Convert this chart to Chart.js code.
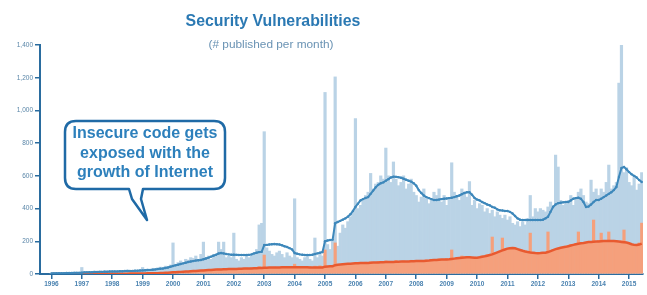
<!DOCTYPE html>
<html>
<head>
<meta charset="utf-8">
<script src="https://cdn.jsdelivr.net/npm/chart.js@4.4.1/dist/chart.umd.min.js"></script>
<style>
  html, body { margin: 0; padding: 0; background: #fff; }
  #wrap { width: 647px; height: 295px; }
</style>
</head>
<body>
<div id="wrap"><canvas id="vulnChart" width="647" height="295"></canvas></div>
<script>
// months from Sep 1995 to Jun 2015
const firstYear = 1995, firstMonth = 9, lastYear = 2015, lastMonth = 6;
const months = [];
for (let y = firstYear; y <= lastYear; y++) {
  for (let m = 1; m <= 12; m++) {
    if (y === firstYear && m < firstMonth) continue;
    if (y === lastYear && m > lastMonth) break;
    months.push(y + "-" + String(m).padStart(2, "0"));
  }
}

const yTicks = [0, 200, 400, 600, 800, 1000, 1200, 1400];

// all vulnerabilities published per month (light blue bars)
const totalPerMonth = [
  null, null, null, null, // 1995
  5, 4, 6, 5, 7, 6, 8, 5, 6, 7, 6, 8, // 1996
  40, 12, 10, 15, 10, 18, 14, 12, 16, 20, 15, 18, // 1997
  18, 20, 15, 22, 18, 20, 25, 16, 20, 22, 18, 24, // 1998
  40, 25, 30, 28, 35, 30, 38, 42, 35, 48, 45, 55, // 1999
  190, 60, 70, 80, 65, 90, 85, 100, 95, 110, 90, 120, // 2000
  195, 100, 110, 90, 120, 110, 195, 150, 195, 100, 110, 100, // 2001
  250, 90, 80, 100, 90, 110, 100, 120, 130, 150, 300, 310, // 2002
  870, 160, 140, 120, 110, 130, 140, 120, 100, 130, 110, 100, // 2003
  460, 100, 90, 80, 100, 110, 90, 80, 220, 100, 120, 110, // 2004
  1110, 180, 150, 200, 1205, 170, 250, 300, 280, 320, 350, 380, // 2005
  950, 400, 420, 450, 480, 500, 615, 520, 550, 560, 600, 580, // 2006
  770, 600, 560, 685, 580, 540, 560, 600, 520, 550, 580, 500, // 2007
  480, 440, 470, 520, 460, 430, 460, 500, 480, 520, 440, 480, // 2008
  420, 460, 680, 500, 480, 450, 520, 500, 470, 565, 420, 450, // 2009
  400, 430, 420, 380, 400, 370, 390, 350, 380, 360, 340, 360, // 2010
  330, 350, 310, 300, 320, 290, 320, 300, 340, 480, 350, 400, // 2011
  380, 400, 390, 380, 410, 440, 420, 727, 654, 450, 420, 440, // 2012
  450, 480, 420, 460, 500, 520, 480, 440, 430, 574, 500, 520, // 2013
  480, 520, 500, 560, 666, 520, 540, 560, 1167, 1400, 620, 650, // 2014
  560, 540, 600, 513, 550, 620 // 2015
];

// web vulnerabilities per month (orange bars)
const webPerMonth = [
  null, null, null, null,
  0, 0, 1, 0, 0, 1, 0, 0, 1, 0, 1, 0,
  1, 2, 1, 1, 2, 1, 2, 1, 1, 2, 1, 2,
  2, 2, 3, 2, 2, 3, 2, 3, 2, 3, 3, 2,
  3, 4, 3, 5, 4, 6, 5, 7, 6, 8, 9, 10,
  12, 10, 13, 12, 15, 14, 16, 18, 17, 20, 19, 22,
  25, 20, 24, 26, 22, 28, 32, 30, 26, 28, 32, 30,
  35, 28, 30, 34, 30, 36, 32, 38, 35, 40, 45, 42,
  116, 40, 36, 38, 42, 36, 40, 44, 38, 42, 40, 38,
  60, 40, 42, 38, 44, 42, 46, 40, 48, 44, 50, 46,
  147, 42, 44, 48, 190, 50, 52, 56, 60, 58, 64, 66,
  70, 68, 62, 70, 72, 66, 74, 70, 68, 76, 72, 70,
  80, 78, 70, 74, 82, 72, 76, 80, 74, 78, 84, 76,
  82, 76, 84, 80, 86, 78, 90, 84, 88, 92, 86, 90,
  95, 90, 147, 96, 100, 98, 110, 104, 108, 106, 100, 104,
  100, 104, 110, 108, 118, 120, 226, 132, 128, 140, 220, 150,
  158, 160, 150, 156, 148, 146, 140, 142, 135, 250, 130, 128,
  125, 130, 126, 132, 257, 138, 150, 146, 158, 162, 160, 170,
  172, 180, 176, 186, 257, 190, 188, 194, 196, 194, 330, 200,
  205, 250, 200, 204, 257, 206, 196, 202, 198, 204, 269, 190,
  186, 180, 176, 182, 190, 311
];

// 12-month average, all vulnerabilities (blue line)
const totalAverage = [
  null, null, null, null,
  4, 4, 5, 5, 5, 5, 6, 6, 6, 7, 7, 7,
  8, 10, 10, 11, 11, 12, 12, 13, 13, 14, 14, 15,
  15, 16, 16, 17, 17, 18, 18, 19, 19, 20, 20, 21,
  22, 23, 24, 25, 26, 28, 30, 32, 34, 37, 40, 44,
  49, 53, 57, 61, 65, 69, 73, 76, 79, 82, 84, 86,
  90, 95, 100, 106, 112, 118, 125, 128, 126, 122, 120, 118,
  118, 117, 116, 116, 116, 116, 117, 120, 126, 130, 134, 136,
  177, 178, 180, 182, 183, 182, 180, 176, 170, 165, 158, 150,
  128, 124, 120, 118, 116, 116, 116, 118, 122, 126, 130, 134,
  200, 205, 208, 210, 311, 318, 325, 332, 340, 350, 365, 385,
  410, 430, 450, 458, 465, 470, 490, 510, 530, 545, 555, 560,
  570, 580, 590, 595, 594, 592, 588, 582, 576, 570, 565, 555,
  540, 513, 495, 480, 470, 464, 458, 452, 452, 455, 458, 460,
  462, 464, 466, 470, 475, 480, 488, 495, 500, 500, 485, 465,
  455, 450, 440, 433, 425, 420, 410, 405, 395, 390, 388, 385,
  385, 380, 370, 355, 340, 332, 330, 330, 330, 330, 330, 330,
  330, 330, 332, 340, 350, 380, 410, 425, 433, 436, 438, 440,
  440, 450, 460, 464, 466, 460, 440, 410, 412, 425, 440, 452,
  452, 460, 470, 480, 490, 500, 513, 532, 593, 648, 654, 640,
  623, 610, 600, 590, 574, 562
];

// 12-month average, web vulnerabilities (orange line)
const webAverage = [
  null, null, null, null,
  0, 0, 0, 0, 0, 0, 1, 1, 1, 1, 1, 1,
  1, 1, 1, 1, 1, 1, 1, 1, 2, 2, 2, 2,
  2, 2, 2, 2, 2, 2, 2, 3, 3, 3, 3, 3,
  3, 3, 4, 4, 4, 5, 5, 6, 6, 7, 8, 9,
  10, 11, 12, 13, 14, 15, 16, 17, 18, 19, 20, 21,
  22, 23, 24, 25, 26, 27, 28, 28, 29, 29, 30, 30,
  31, 31, 32, 32, 33, 33, 34, 34, 35, 35, 36, 36,
  38, 38, 39, 39, 40, 40, 40, 41, 41, 41, 42, 42,
  42, 42, 42, 41, 41, 41, 40, 40, 40, 40, 40, 40,
  45, 46, 47, 48, 54, 56, 58, 60, 61, 62, 63, 64,
  65, 66, 67, 67, 68, 68, 69, 70, 70, 71, 72, 72,
  73, 73, 74, 74, 75, 75, 76, 76, 77, 77, 78, 78,
  79, 79, 80, 80, 81, 82, 84, 86, 86, 87, 88, 88,
  89, 90, 92, 94, 96, 98, 100, 101, 102, 102, 101, 100,
  100, 102, 105, 108, 112, 116, 120, 126, 132, 138, 144, 150,
  155, 158, 159, 157, 152, 147, 142, 138, 135, 132, 130, 128,
  127, 128, 130, 130, 134, 140, 146, 152, 156, 160, 163, 166,
  170, 174, 178, 182, 185, 188, 190, 193, 195, 196, 197, 198,
  199, 200, 201, 202, 202, 202, 201, 200, 198, 196, 194, 192,
  188, 182, 178, 177, 180, 186
];

const calloutLines = ["Insecure code gets", "exposed with the", "growth of Internet"];

const FONT = "'Liberation Sans', Arial, sans-serif";
const AXIS_BLUE = "#2a6c9f";

// font size that makes text span a given width
function fitSize(ctx, text, weight, width) {
  ctx.font = weight + " 20px " + FONT;
  return (20 * width) / ctx.measureText(text).width;
}

const overlay = {
  id: "overlay",
  afterDraw(chart) {
    const ctx = chart.ctx;
    ctx.save();
    ctx.textAlign = "center";
    ctx.textBaseline = "middle";

    // title + subtitle
    let s = fitSize(ctx, "Security Vulnerabilities", "bold", 175);
    ctx.font = "bold " + s + "px " + FONT;
    ctx.fillStyle = "#2b79b3";
    ctx.fillText("Security Vulnerabilities", 273, 22);
    s = fitSize(ctx, "(# published per month)", "normal", 125);
    ctx.font = s + "px " + FONT;
    ctx.fillStyle = "#6a93b4";
    ctx.fillText("(# published per month)", 271, 45);

    // speech bubble
    const l = 65, r = 225, t = 121, b = 189, rad = 11;
    ctx.beginPath();
    ctx.moveTo(l + rad, t);
    ctx.lineTo(r - rad, t);
    ctx.quadraticCurveTo(r, t, r, t + rad);
    ctx.lineTo(r, b - rad);
    ctx.quadraticCurveTo(r, b, r - rad, b);
    ctx.lineTo(143, b);
    ctx.lineTo(141, 199);
    ctx.lineTo(147, 220);
    ctx.lineTo(132, 199);
    ctx.lineTo(129, b);
    ctx.lineTo(l + rad, b);
    ctx.quadraticCurveTo(l, b, l, b - rad);
    ctx.lineTo(l, t + rad);
    ctx.quadraticCurveTo(l, t, l + rad, t);
    ctx.closePath();
    ctx.fillStyle = "#ffffff";
    ctx.fill();
    ctx.lineWidth = 2.5;
    ctx.lineJoin = "round";
    ctx.strokeStyle = "#1f6aa6";
    ctx.stroke();

    s = fitSize(ctx, calloutLines[0], "bold", 145);
    ctx.font = "bold " + s + "px " + FONT;
    ctx.fillStyle = "#2d80bc";
    calloutLines.forEach((line, i) => ctx.fillText(line, 145, 134 + i * 19.5));
    ctx.restore();
  },
};

const ctx = document.getElementById("vulnChart").getContext("2d");
const vulnChart = new Chart(ctx, {
  type: "bar",
  data: {
    labels: months,
    datasets: [
      {
        type: "line",
        data: totalAverage,
        borderColor: "#3e88bb",
        backgroundColor: "#3e88bb",
        borderWidth: 2,
        pointRadius: 1.2,
        pointBorderWidth: 0,
        tension: 0,
        order: 0,
      },
      {
        type: "line",
        data: webAverage,
        borderColor: "#e85a30",
        borderWidth: 2.5,
        pointRadius: 0,
        tension: 0,
        order: 1,
      },
      {
        data: webPerMonth,
        backgroundColor: "#f5a07c",
        grouped: false,
        barPercentage: 1,
        categoryPercentage: 1,
        order: 2,
      },
      {
        data: totalPerMonth,
        backgroundColor: "#bad3e6",
        grouped: false,
        barPercentage: 1,
        categoryPercentage: 1,
        order: 3,
      },
    ],
  },
  options: {
    responsive: false,
    animation: false,
    devicePixelRatio: 1,
    layout: { padding: { top: 45, right: 0, left: 0, bottom: 0 } },
    plugins: {
      legend: { display: false },
      tooltip: { enabled: false },
    },
    scales: {
      x: {
        offset: true,
        afterFit: (scale) => { scale.height = 21; },
        border: { color: AXIS_BLUE, width: 2 },
        grid: {
          offset: false,
          drawOnChartArea: false,
          tickLength: 5,
          lineWidth: 1.5,
          color: (c) => (c.tick && months[c.tick.value] && months[c.tick.value].endsWith("-01") ? AXIS_BLUE : "transparent"),
        },
        ticks: {
          autoSkip: false,
          maxRotation: 0,
          padding: 1,
          color: "#4a82b0",
          font: { size: 6.5, weight: "bold", family: FONT },
          callback: function (value) {
            const lab = this.getLabelForValue(value);
            return lab.endsWith("-01") ? lab.slice(0, 4) : "";
          },
        },
      },
      y: {
        min: 0,
        max: 1400,
        afterFit: (scale) => { scale.width = 40; },
        afterBuildTicks: (scale) => { scale.ticks = yTicks.map((v) => ({ value: v })); },
        border: { color: AXIS_BLUE, width: 2 },
        grid: { drawOnChartArea: false, tickLength: 5, lineWidth: 1.5, color: AXIS_BLUE },
        ticks: {
          padding: 2,
          color: "#5a86a8",
          font: { size: 6.5, family: FONT },
        },
      },
    },
  },
  plugins: [overlay],
});
</script>
</body>
</html>
